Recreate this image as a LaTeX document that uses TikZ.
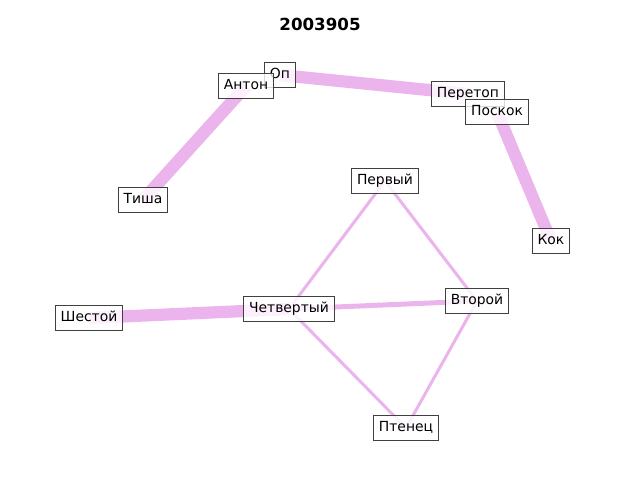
\documentclass[tikz,border=0pt]{standalone}
\usepackage{fontspec}
\setmainfont{DejaVu Sans}
\usetikzlibrary{backgrounds}

\definecolor{edgepink}{RGB}{235,180,236}
\definecolor{boxgray}{RGB}{64,64,64}

\tikzset{
  word/.style={draw=boxgray, line width=0.8pt, fill=white, fill opacity=0.8,
    text opacity=1, inner xsep=4pt, inner ysep=4pt,
    text height=7.4pt, text depth=2.2pt, font=\fontsize{10}{12}\selectfont},
  link/.style={draw=edgepink, line cap=butt}
}

\begin{document}
\begin{tikzpicture}[x=0.72pt,y=-0.72pt]
\useasboundingbox (0,0) rectangle (640,480);
\node (title) at (320,24) {\fontsize{12}{14}\selectfont\bfseries 2003905};
% words
\node[word] (op) at (280,75) {Оп};
\node[word] (anton) at (246,86) {Антон};
\node[word] (peretop) at (468,94) {Перетоп};
\node[word] (poskok) at (497,112) {Поскок};
\node[word] (tisha) at (143,200) {Тиша};
\node[word] (pervyj) at (385,181) {Первый};
\node[word] (kok) at (551,241) {Кок};
\node[word] (shestoj) at (89,318) {Шестой};
\node[word] (chetv) at (289,309) {Четвертый};
\node[word] (vtoroj) at (477,301) {Второй};
\node[word] (ptenec) at (406,428) {Птенец};
% links
\begin{scope}[on background layer]
\draw[link, line width=9pt] (tisha.center) -- (anton.center);
\draw[link, line width=8.8pt] (op.center) -- (peretop.center);
\draw[link, line width=8.8pt] (poskok.center) -- (kok.center);
\draw[link, line width=8.8pt] (shestoj.center) -- (chetv.center);
\draw[link, line width=3.6pt] (chetv.center) -- (vtoroj.center);
\draw[link, line width=2.2pt] (pervyj.center) -- (chetv.center);
\draw[link, line width=2.2pt] (pervyj.center) -- (vtoroj.center);
\draw[link, line width=2.2pt] (chetv.center) -- (ptenec.center);
\draw[link, line width=2.2pt] (vtoroj.center) -- (ptenec.center);
\end{scope}
\end{tikzpicture}
\end{document}
